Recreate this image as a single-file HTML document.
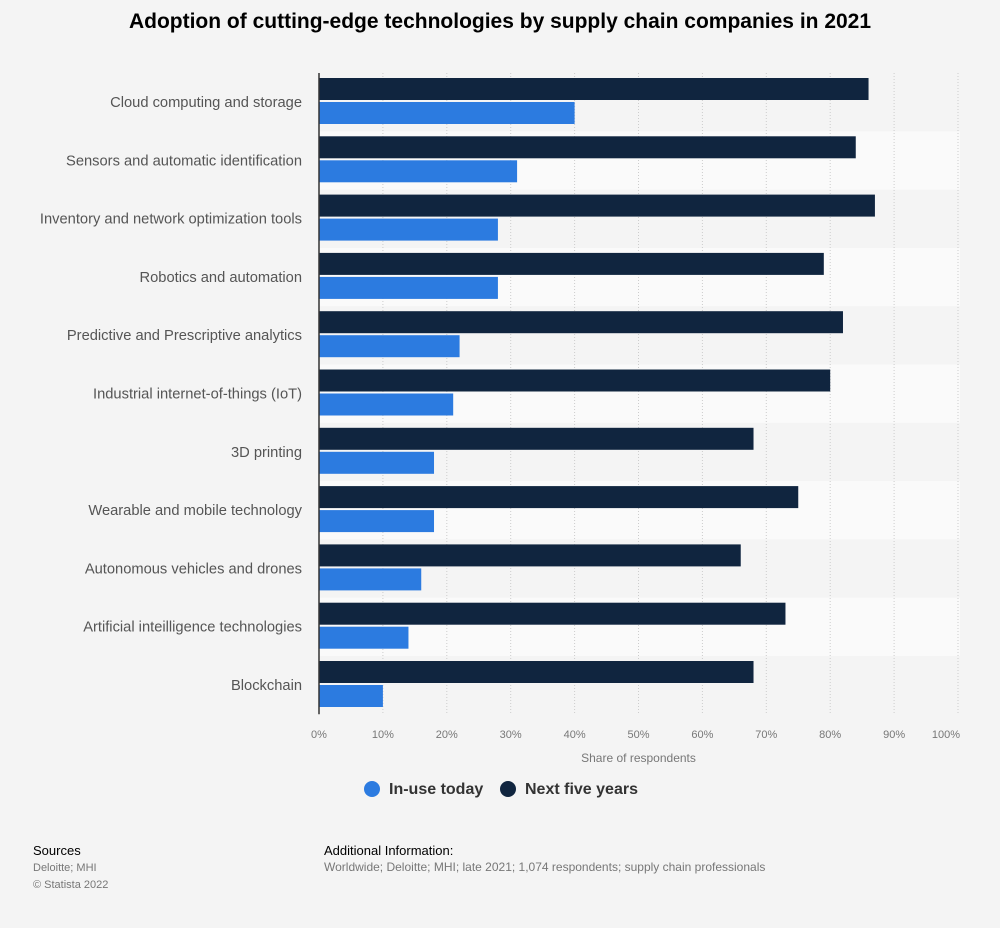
<!DOCTYPE html>
<html><head><meta charset="utf-8"><style>
body{margin:0;background:#f4f4f4;font-family:"Liberation Sans",Arial,sans-serif;}
#wrap{position:relative;width:1000px;height:928px;}
.t{position:absolute;white-space:nowrap;}
</style></head><body>
<div id="wrap">
<div class="t" style="left:0;width:1000px;text-align:center;top:10px;font-size:21px;font-weight:bold;color:#000">Adoption of cutting-edge technologies by supply chain companies in 2021</div>
<svg id="chart" width="1000" height="780" style="position:absolute;left:0;top:0"></svg>
<div class="t" style="left:364px;top:781px;font-size:16px;font-weight:bold;color:#333"><span style="display:inline-block;width:16px;height:16px;border-radius:50%;background:#2c7be0;vertical-align:-3px;margin-right:9px"></span>In-use today</div>
<div class="t" style="left:500px;top:781px;font-size:16px;font-weight:bold;color:#333"><span style="display:inline-block;width:16px;height:16px;border-radius:50%;background:#10253f;vertical-align:-3px;margin-right:9px"></span>Next five years</div>
<div class="t" style="left:33px;top:843px;font-size:13px;color:#000">Sources</div>
<div class="t" style="left:33px;top:860px;font-size:11px;color:#777;line-height:17px">Deloitte; MHI<br>© Statista 2022</div>
<div class="t" style="left:324px;top:843px;font-size:13px;color:#000">Additional Information:</div>
<div class="t" style="left:324px;top:860px;font-size:12px;color:#777">Worldwide; Deloitte; MHI; late 2021; 1,074 respondents; supply chain professionals</div>
</div>
<script>
const categories=["Cloud computing and storage","Sensors and automatic identification","Inventory and network optimization tools","Robotics and automation","Predictive and Prescriptive analytics","Industrial internet-of-things (IoT)","3D printing","Wearable and mobile technology","Autonomous vehicles and drones","Artificial inteilligence technologies","Blockchain"];
const inUse=[40,31,28,28,22,21,18,18,16,14,10];
const nextFive=[86,84,87,79,82,80,68,75,66,73,68];
const ticks=[0,10,20,30,40,50,60,70,80,90,100];
const svg=document.getElementById('chart');
const NS='http://www.w3.org/2000/svg';
const x0=319,x1=958,top0=73,rowH=58.3;
const xs=v=>x0+(x1-x0)*v/100;
const ys=i=>top0+i*rowH;
function mk(tag,attrs){const e=document.createElementNS(NS,tag);for(const k in attrs)e.setAttribute(k,attrs[k]);svg.appendChild(e);return e;}
categories.forEach((c,i)=>{
 if(i%2===1){const b=mk('rect',{x:x0,y:ys(i),width:960-x0,height:rowH,fill:'#fafafa'});
 
 }
});
ticks.forEach(t=>{
 if(t>0){const l=mk('line',{x1:xs(t),x2:xs(t),y1:top0,y2:top0+rowH*categories.length,stroke:'#ccc','stroke-dasharray':'1,2'});
 
 }
 const last=t===100;
 const tx=mk('text',{x:last?960:xs(t),y:738,'text-anchor':last?'end':'middle','font-size':11,fill:'#777','font-family':'Liberation Sans, sans-serif'});
 tx.textContent=t+'%';
 
 
});
categories.forEach((c,i)=>{
 const y=ys(i);
 const d=mk('rect',{x:x0,y:y+5,width:xs(nextFive[i])-x0,height:22,fill:'#10253f'});
 
 
 const b=mk('rect',{x:x0,y:y+29,width:xs(inUse[i])-x0,height:22,fill:'#2c7be0'});
 
 
 const t=mk('text',{x:302,y:y+34,'text-anchor':'end','font-size':14.7,fill:'#555','font-family':'Liberation Sans, sans-serif'});
 t.textContent=c;
 
 
});
const ax=mk('line',{x1:x0,x2:x0,y1:top0,y2:top0+rowH*categories.length,stroke:'#333','stroke-width':1.5});


const at=mk('text',{x:(x0+x1)/2,y:762,'text-anchor':'middle','font-size':12,fill:'#777','font-family':'Liberation Sans, sans-serif'});
at.textContent='Share of respondents';


</script>
</body></html>
